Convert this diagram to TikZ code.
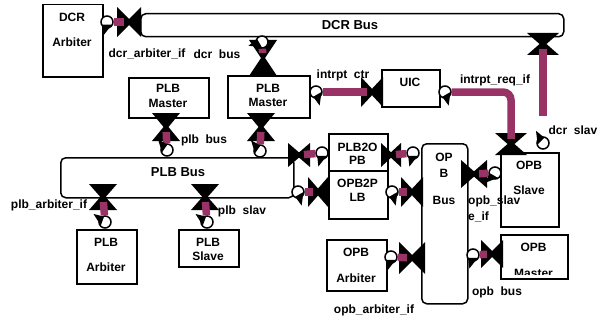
\documentclass[tikz,border=0pt]{standalone}
\usepackage{fontspec}
\setmainfont{Liberation Sans}
\usetikzlibrary{calc}
\definecolor{linkc}{RGB}{153,51,102}

\tikzset{
  blk/.style={draw, line width=1.5pt, fill=white, anchor=north west, inner sep=0},
  bus/.style={blk, rounded corners=5pt},
  txt/.style={font=\fontsize{12}{14}\selectfont\bfseries, align=center, anchor=north, inner sep=0},
  bustxt/.style={txt, font=\fontsize{13}{15}\selectfont\bfseries},
  lbl/.style={font=\fontsize{12}{14}\selectfont\bfseries, inner sep=0},
  ifc/.style={circle, draw, line width=1.5pt, fill=white, minimum size=12pt, inner sep=0},
  link/.style={draw=linkc, line width=7.5pt, shorten >=5pt},
  pics/porth/.style 2 args={code={
    \fill (-#1,-#2) -- (3,0) -- (-#1,#2) -- cycle;
    \fill (#1,-#2) -- (-3,0) -- (#1,#2) -- cycle;
    \coordinate (-c) at (0,0);}},
  pics/portv/.style 2 args={code={
    \fill (-#1,-#2) -- (#1,-#2) -- (0,3) -- cycle;
    \fill (-#1,#2) -- (#1,#2) -- (0,-3) -- cycle;
    \coordinate (-c) at (0,0);}},
}
\newcommand{\ifctip}[2]{\fill ($(#1.center)+(#2-60:5.5)$) -- ($(#1.center)+(#2+15:14)$) -- ($(#1.center)+(#2+60:5.5)$) -- cycle;}

\begin{document}
\begin{tikzpicture}[x=1pt,y=-1pt]
\useasboundingbox (0,0) rectangle (602,321);

% busses
\node[bus, minimum width=423, minimum height=23] (dcrbus) at (140,13) {};
\node[bus, minimum width=233, minimum height=40] (plbbus) at (60,157) {};
\node[bus, minimum width=46, minimum height=160] (opbbus) at (421,143) {};
\node[bustxt] (dcrbust) at (350,20.5) {DCR Bus};
\node[bustxt] (plbbust) at (178,167.5) {PLB Bus};
\node[txt] (opbbust) at (444,152.7) {OP\\[2pt]B\\[13pt]Bus};

% blocks
\node[blk, minimum width=60, minimum height=72] (dcrarb) at (42,4) {};
\node[blk, minimum width=80, minimum height=40] (plbm1) at (128,77) {};
\node[blk, minimum width=82, minimum height=42] (plbm2) at (227,75) {};
\node[blk, minimum width=58, minimum height=37] (uic) at (381,69) {};
\node[blk, minimum width=59, minimum height=37] (plb2opb) at (328,133) {};
\node[blk, minimum width=59, minimum height=48] (opb2plb) at (328,170) {};
\node[blk, minimum width=60, minimum height=54] (plbarb) at (76,229) {};
\node[blk, minimum width=60, minimum height=37] (plbslv) at (178,229) {};
\node[blk, minimum width=60, minimum height=51] (opbarb) at (326,239) {};
\node[blk, minimum width=67, minimum height=44] (opbmst) at (500,234) {};
\node[blk, minimum width=58, minimum height=74] (opbslv) at (500,152) {};

\node[txt] (dcrarbt) at (72,12.7) {DCR\\[11pt]Arbiter};
\node[txt] (plbm1t) at (168,83.7) {PLB\\[1pt]Master};
\node[txt] (plbm2t) at (268,83.7) {PLB\\Master};
\node[txt] (uict) at (410,77.7) {UIC};
\node[txt] (plb2opbt) at (357.5,142.7) {PLB2O\\[-1pt]PB};
\node[txt] (opb2plbt) at (357.5,178.7) {OPB2P\\LB};
\node[txt] (plbarbt) at (106,237.7) {PLB\\[11pt]Arbiter};
\node[txt] (plbslvt) at (208,237.7) {PLB\\Slave};
\node[txt] (opbarbt) at (356,247.7) {OPB\\[12pt]Arbiter};
\node[txt] (opbslvt) at (529,160.7) {OPB\\[11pt]Slave};
\begin{scope}
  \clip (501,235) rectangle (566,274.5);
  \node[txt] (opbmstt) at (533.5,242.7) {OPB\\[12pt]Master};
\end{scope}

% ports
\pic (pdcrarb) at (129,22) {porth={12}{15}};
\pic (pdcrm) at (263,58) {portv={14}{18}};
\pic (pplbm1) at (166,127) {portv={14}{14}};
\pic (pplbm2) at (261,127) {portv={14}{14}};
\pic (pintc) at (372,92) {porth={11}{15}};
\pic (pintr) at (511,144) {portv={16}{11}};
\pic (pdcrs) at (543,44) {portv={16}{11}};
\pic (popbs) at (474,174) {porth={13}{14}};
\pic (pp2o) at (299,155) {porth={11}{12}};
\pic (pp2ob) at (391,155) {porth={10}{12}};
\pic (po2p) at (318,192) {porth={10}{15}};
\pic (po2pb) at (412,192) {porth={11}{15}};
\pic (pplba) at (103,197) {portv={14}{13}};
\pic (pplbs) at (205,197) {portv={14}{13}};
\pic (popba) at (412,258) {porth={13}{16}};
\pic (popbm) at (492,254) {porth={11}{14}};

% interfaces
\node[ifc] (idcrarb) at (107,22) {};
\node[ifc] (idcrm) at (262,42) {};
\node[ifc] (iplbm1) at (167,150) {};
\node[ifc] (iplbm2) at (260,151) {};
\node[ifc] (iintc) at (316,92) {};
\node[ifc] (iintr) at (445,92) {};
\node[ifc] (idcrs) at (543,143) {};
\node[ifc] (iopbs) at (495,173) {};
\node[ifc] (ip2o) at (322,153) {};
\node[ifc] (ip2ob) at (413,153) {};
\node[ifc] (io2p) at (298,192) {};
\node[ifc] (io2pb) at (392,192) {};
\node[ifc] (iplba) at (105,222) {};
\node[ifc] (iplbs) at (207,222) {};
\node[ifc] (iopba) at (391,257) {};
\node[ifc] (iopbm) at (473,255) {};

% links
\draw[link] (idcrarb) -- (pdcrarb-c);
\draw[link] (idcrm) -- (pdcrm-c);
\draw[link] (iplbm1) -- (pplbm1-c);
\draw[link] (iplbm2) -- (pplbm2-c);
\draw[link] (iintc) -- (pintc-c);
\draw[link, rounded corners=8pt] (iintr) -| (pintr-c);
\draw[link, shorten <=20pt] (idcrs) -- (pdcrs-c);
\draw[link] (iopbs) -- (popbs-c);
\draw[link] (ip2o) -- (pp2o-c);
\draw[link] (ip2ob) -- (pp2ob-c);
\draw[link] (io2p) -- (po2p-c);
\draw[link] (io2pb) -- (po2pb-c);
\draw[link] (iplba) -- (pplba-c);
\draw[link] (iplbs) -- (pplbs-c);
\draw[link] (iopba) -- (popba-c);
\draw[link] (iopbm) -- (popbm-c);

\ifctip{idcrarb}{90}
\ifctip{idcrm}{150}
\ifctip{iplbm1}{215}
\ifctip{iplbm2}{215}
\ifctip{iintc}{60}
\ifctip{iintr}{60}
\ifctip{idcrs}{225}
\ifctip{iopbs}{120}
\ifctip{ip2o}{90}
\ifctip{ip2ob}{90}
\ifctip{io2p}{60}
\ifctip{io2pb}{60}
\ifctip{iplba}{200}
\ifctip{iplbs}{200}
\ifctip{iopba}{90}
\ifctip{iopbm}{90}

% labels
\node[lbl] (ldcrarb) at (147,54) {dcr\_arbiter\_if};
\node[lbl] (ldcrm) at (217,54) {dcr\ \ bus};
\node[lbl] (lintc) at (343,75) {intrpt\ \ ctr};
\node[lbl] (lintr) at (495,80) {intrpt\_req\_if};
\node[lbl] (ldcrs) at (573,130) {dcr\ \ slav};
\node[lbl] (lplbm) at (204,140) {plb\ \ bus};
\node[lbl] (lplba) at (49,205) {plb\_arbiter\_if};
\node[lbl] (lplbs) at (242,211) {plb\ \ slav};
\node[lbl, align=left, anchor=north west] (lopbs) at (468,196) {opb\_slav\\[2pt]e\_if};
\node[lbl] (lopba) at (374,310) {opb\_arbiter\_if};
\node[lbl] (lopbm) at (497,292) {opb\ \ bus};
\end{tikzpicture}
\end{document}
